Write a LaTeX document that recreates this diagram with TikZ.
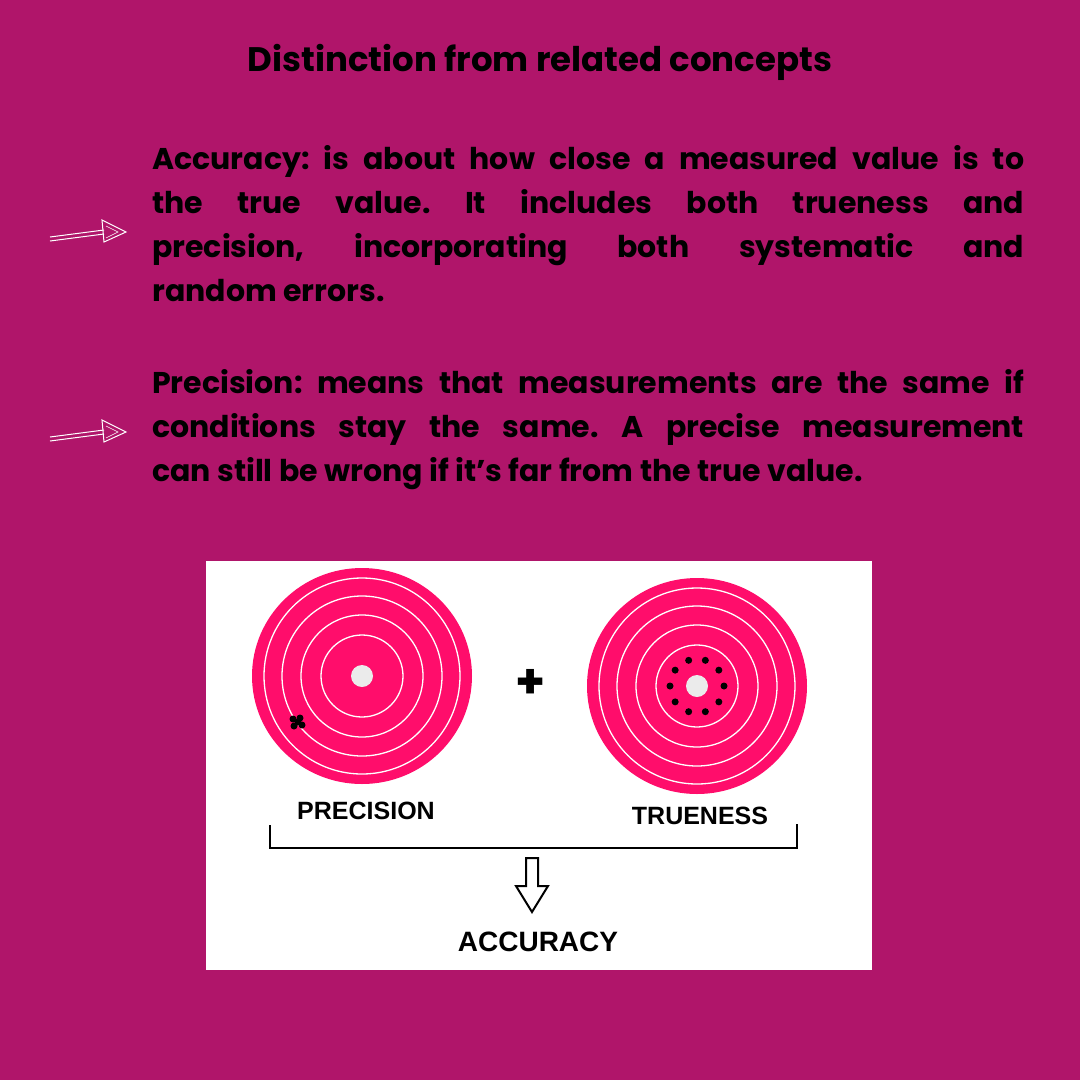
\documentclass[tikz,border=0pt]{standalone}
\usepackage{fontspec}
\setmainfont{Poppins}[UprightFont=* Bold]
\newfontfamily\labelfont{Liberation Sans}[UprightFont=* Bold]
\usetikzlibrary{positioning,calc}
\definecolor{bgmag}{HTML}{B0156A}
\definecolor{tgpink}{HTML}{FF0D6B}
\frenchspacing
\hyphenpenalty=10000
\begin{document}
\begin{tikzpicture}[x=1pt,y=-1pt,
				para/.style={text width=872pt, align=justify, inner sep=0pt, anchor=north west,
					font=\fontsize{30}{44}\selectfont},
				tlabel/.style={font=\labelfont\fontsize{25}{28}\selectfont},
				ring/.style={draw=white, line width=1.3pt},
				shot/.style={circle, fill=black, inner sep=0pt, minimum size=7pt},
				sketch/.style={draw=white, line width=1pt}
			]
			\fill[bgmag] (0,0) rectangle (1080,1080);
			\useasboundingbox (0,0) rectangle (1080,1080);
			\node (title) at (540,62) {\fontsize{34}{40}\selectfont Distinction from related concepts};
			\node[para] (accpara) at (152,145) {Accuracy: is about how close a measured value is to\linebreak the true value. It includes both trueness and\linebreak precision, incorporating both systematic and\linebreak random errors.};
			\node[para] (prepara) at (152,369) {Precision: means that measurements are the same if\linebreak conditions stay the same. A precise measurement\linebreak can still be wrong if it's far from the true value.};
			% hand drawn arrows
			\foreach \y [count=\i] in {232,432} {
				\coordinate (tail\i) at (50,\y+5);
				\coordinate (tip\i) at (126,\y);
				\draw[sketch] (tail\i) -- ($(tip\i)+(-22,-2)$);
				\draw[sketch] ($(tail\i)+(0,4)$) -- ($(tip\i)+(-22,2)$);
				\draw[sketch] ($(tip\i)+(-24,-12)$) -- (tip\i) -- ($(tip\i)+(-22,10)$) -- cycle;
				\draw[sketch, line width=0.5pt] ($(tip\i)+(-20,-6)$) -- ($(tip\i)+(-8,0)$) -- ($(tip\i)+(-20,6)$);
			}
			% figure
			\fill[white] (206,561) rectangle (872,970);
			\foreach \name/\cx/\cy in {left/362/676, right/697/686} {
				\fill[tgpink] (\cx,\cy) ellipse (110 and 108);
				\foreach \r in {98,80,61,41}
					\draw[ring] (\cx,\cy) circle (\r);
				\fill[white!92!black] (\cx,\cy) circle (11);
				\coordinate (\name) at (\cx,\cy);
			}
			\foreach \dx/\dy in {-5/-3,2/-4,-4/4,4/3,0/0}
				\node[shot] at ($(298,722)+(\dx,\dy)$) {};
			\foreach \a in {0,36,...,324}
				\node[shot] at ($(right)+(\a:27)$) {};
			\node (plus) at (531,684) {\fontsize{48}{48}\selectfont +};
			\node[tlabel] (precision) at (366,811) {PRECISION};
			\node[tlabel] (trueness) at (700,816) {TRUENESS};
			\draw[line width=2.5pt] (270,825) -- (270,848) -- (797,848) -- (797,824);
			\coordinate (arrtop) at (532,858);
			\draw[line width=2pt, line join=miter] ($(arrtop)+(-6,0)$) -- ($(arrtop)+(6,0)$) -- ($(arrtop)+(6,28)$) -- ($(arrtop)+(16,28)$)
				-- ($(arrtop)+(0,54)$) -- ($(arrtop)+(-16,28)$) -- ($(arrtop)+(-6,28)$) -- cycle;
			\node[tlabel, font=\labelfont\fontsize{28}{30}\selectfont] (accuracy) at (538,942) {ACCURACY};
			\end{tikzpicture}
\end{document}
